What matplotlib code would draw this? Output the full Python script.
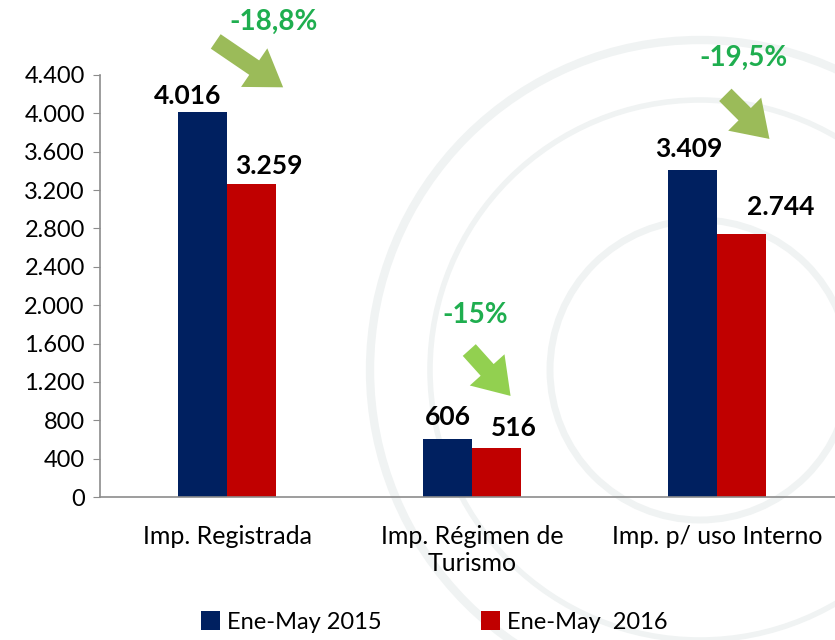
import matplotlib
matplotlib.use("Agg")
import matplotlib.pyplot as plt
from matplotlib.patches import Circle
import numpy as np

plt.rcParams["font.family"] = ["Lato", "DejaVu Sans"]

categories = ["Imp. Registrada", "Imp. Régimen de\nTurismo", "Imp. p/ uso Interno"]
ene_may_2015 = [4016, 606, 3409]
ene_may_2016 = [3259, 516, 2744]
changes = ["-18,8%", "-15%", "-19,5%"]
yticks = [0, 400, 800, 1200, 1600, 2000, 2400, 2800, 3200, 3600, 4000, 4400]

BLUE = "#002060"
RED = "#c00000"
GREEN_TXT = "#1fae4f"
ARROW_COLS = ["#9bbb59", "#92d050", "#9bbb59"]

# label nudges (pixels) as placed by hand in the original
off_2015 = [(-15, 8), (0, 14), (-4, 13)]
off_2016 = [(17, 10), (17, 12), (39, 19)]


def fmt(v):
    return f"{v:,}".replace(",", ".")


fig = plt.figure(figsize=(8.35, 6.4), dpi=100)

# faint watermark seal (pixel coordinates, origin bottom-left)
for r, lw in [(330, 6), (270, 4), (150, 5)]:
    fig.patches.append(Circle((700, 270), r, transform=None, fill=False,
                              ec="#f0f3f3", lw=lw, zorder=-5))

ax = fig.add_axes([0.1198, 0.2234, 0.8802, 0.6596])
ax.patch.set_alpha(0)
ax.set_zorder(2)

x = np.arange(len(categories))
w = 0.2
ax.bar(x - w / 2, ene_may_2015, w, color=BLUE, label="Ene-May 2015")
ax.bar(x + w / 2, ene_may_2016, w, color=RED, label="Ene-May  2016")

for xi, v, off in zip(x - w / 2, ene_may_2015, off_2015):
    ax.annotate(fmt(v), (xi, v), xytext=off, textcoords="offset pixels",
                ha="center", va="baseline", fontsize=19, fontweight="bold")
for xi, v, off in zip(x + w / 2, ene_may_2016, off_2016):
    ax.annotate(fmt(v), (xi, v), xytext=off, textcoords="offset pixels",
                ha="center", va="baseline", fontsize=19, fontweight="bold")

ax.set_xlim(-0.52, 2.48)
ax.set_ylim(0, 4400)
ax.set_yticks(yticks)
ax.set_yticklabels([fmt(v) for v in yticks], fontsize=17)
ax.set_xticks(x)
ax.set_xticklabels(categories, fontsize=18, linespacing=1.2)
ax.tick_params(axis="x", length=0, pad=20)
ax.tick_params(axis="y", length=5, color="#8c8c8c", pad=6)
for s in ["top", "right"]:
    ax.spines[s].set_visible(False)
for s in ["left", "bottom"]:
    ax.spines[s].set_color("#8c8c8c")
    ax.spines[s].set_linewidth(1.2)


def px(xp, yp):
    return (xp - 227) / 245, (497 - yp) / 422 * 4400


arrows = [((213, 40), (285, 89), (273, 22)),
          ((467, 348), (512, 398), (475, 315)),
          ((723, 93), (771, 141), (743, 58))]
for (tail, tip, lab), txt, col in zip(arrows, changes, ARROW_COLS):
    ax.annotate("", xy=px(*tip), xytext=px(*tail), annotation_clip=False,
                arrowprops=dict(arrowstyle="simple,head_length=1.2,head_width=1.6,tail_width=0.6",
                                color=col, lw=0, mutation_scale=21))
    ax.text(*px(*lab), txt, ha="center", va="center", fontsize=20,
            color=GREEN_TXT, fontweight="bold", clip_on=False)

fig.legend(loc="center", bbox_to_anchor=(0.52, 0.028), ncol=2, frameon=False,
           fontsize=17, handlelength=0.8, handleheight=0.8, handletextpad=0.3,
           columnspacing=4.2)

fig.savefig("out.png", dpi=100, facecolor="white")
